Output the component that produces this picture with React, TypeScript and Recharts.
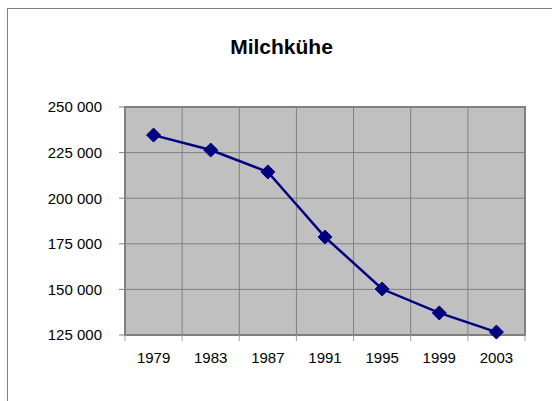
import React from 'react';
import { LineChart, Line, XAxis, YAxis, CartesianGrid, ReferenceLine, ReferenceArea } from 'recharts';

const years = ['1979', '1983', '1987', '1991', '1995', '1999', '2003'];
const cows = [234600, 226400, 214400, 178700, 150200, 137100, 126600];
const yTicks = [125000, 150000, 175000, 200000, 225000, 250000];
const title = 'Milchkühe';

const data = years.map((y, i) => ({ pos: i + 0.5, year: y, value: cows[i] }));
const xTicks: number[] = [];
for (let i = 0; i <= years.length; i++) {
  xTicks.push(i);
  if (i < years.length) xTicks.push(i + 0.5);
}
const innerBounds = Array.from({ length: years.length - 1 }, (_, i) => i + 1);

const FONT = '"Liberation Sans", Arial, sans-serif';
const fmt = (v: number) => String(v).replace(/\B(?=(\d{3})+(?!\d))/g, ' ');

const XTick = (props: any) => {
  const { x, y, payload } = props;
  const v = payload.value as number;
  if (Number.isInteger(v)) {
    return <line x1={x} y1={y} x2={x} y2={y + 6} stroke="#a0a0a0" strokeWidth={1} />;
  }
  const label = years[Math.floor(v)];
  return (
    <text x={x} y={y + 17} dy="0.71em" textAnchor="middle" fill="#000" fontSize={15} fontFamily={FONT}>
      {label}
    </text>
  );
};

const Diamond = (props: any) => {
  const { cx, cy } = props;
  if (cx == null || cy == null) return null;
  const r = 7;
  return <path d={`M${cx},${cy - r}L${cx + r},${cy}L${cx},${cy + r}L${cx - r},${cy}Z`} fill="#000080" stroke="#000080" strokeWidth={1} />;
};

export default function App() {
  return (
    <div style={{ position: 'absolute', left: 0, top: 0, width: 552, height: 401, overflow: 'hidden', background: '#fff' }}>
      <div style={{ position: 'absolute', left: 7, top: 8, width: 700, height: 600, borderLeft: '1px solid #808080', borderTop: '1px solid #808080' }} />
      <svg style={{ position: 'absolute', left: 0, top: 0 }} width={552} height={401}>
        <text x={281.5} y={54} textAnchor="middle" fontSize={21} fontWeight="bold" fontFamily={FONT} fill="#000">
          {title}
        </text>
      </svg>
      <div style={{ position: 'absolute', left: 0, top: 0 }}>
        <LineChart width={552} height={401} data={data} margin={{ top: 107, right: 27, bottom: 36, left: 65 }}>
          <CartesianGrid vertical={false} stroke="#808080" fill="#c0c0c0" fillOpacity={1} />
          <XAxis
            dataKey="pos"
            type="number"
            domain={[0, years.length]}
            ticks={xTicks}
            interval={0}
            axisLine={false}
            tickLine={false}
            tickSize={0}
            tickMargin={0}
            height={30}
            tick={<XTick />}
          />
          <YAxis
            type="number"
            domain={[125000, 250000]}
            ticks={yTicks}
            interval={0}
            width={60}
            axisLine={false}
            tickLine={{ stroke: '#808080' }}
            tickSize={6}
            tickMargin={17}
            tickFormatter={fmt}
            tick={{ fill: '#000', fontSize: 15, fontFamily: FONT }}
          />
          {innerBounds.map((b) => (
            <ReferenceLine key={b} x={b} stroke="#808080" strokeWidth={1} />
          ))}
          <ReferenceArea x1={0} x2={years.length} y1={125000} y2={250000} fill="none" stroke="#808080" strokeWidth={2} />
          <Line
            dataKey="value"
            stroke="#000080"
            strokeWidth={2.5}
            dot={<Diamond />}
            isAnimationActive={false}
          />
        </LineChart>
      </div>
    </div>
  );
}
